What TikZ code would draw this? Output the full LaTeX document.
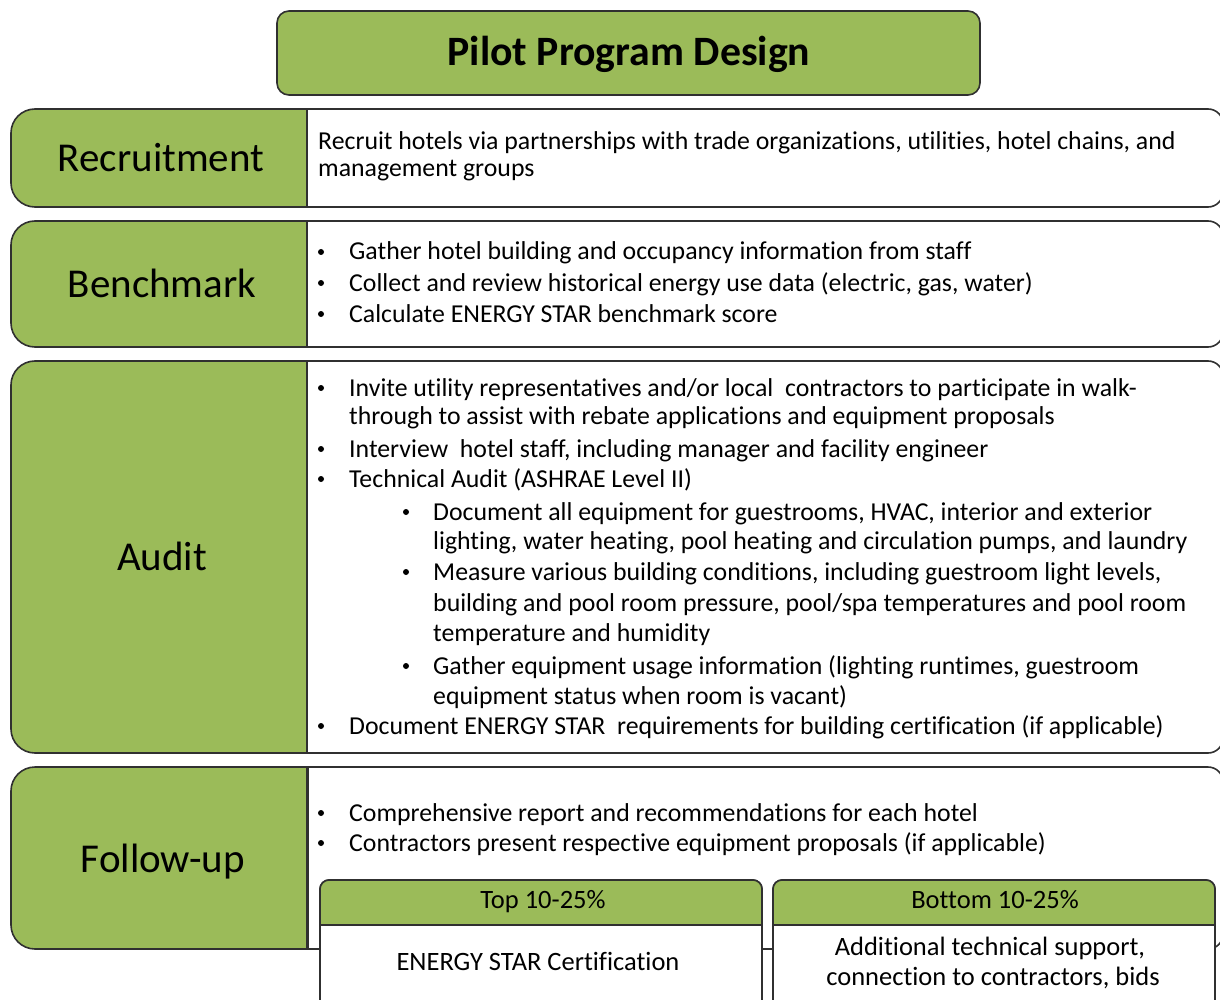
\documentclass[tikz,border=0pt]{standalone}
\usepackage{fontspec}
\setmainfont{Carlito}[Ligatures={NoCommon}]
\definecolor{ppgreen}{HTML}{9BBB59}
\definecolor{ppline}{HTML}{303030}
\tikzset{
  greenbox/.style={draw=ppline, line width=1.6pt, fill=ppgreen},
  whitebox/.style={draw=ppline, line width=1.6pt, fill=white},
  label/.style={font=\fontsize{41}{48}\selectfont, anchor=base, inner sep=0pt},
  title/.style={font=\fontsize{41.8}{48}\selectfont\bfseries, anchor=base, inner sep=0pt},
  body/.style={font=\fontsize{25.8}{30}\selectfont, anchor=base west, inner sep=0pt},
  subtxt/.style={font=\fontsize{26.5}{30}\selectfont, anchor=base, inner sep=0pt},
  bul/.style={circle, fill=black, inner sep=0pt, minimum size=6pt},
}
\newcommand\pprow[3]{%
  \begin{scope}
    \clip (0,#1-6) rectangle (307,#2+6);
    \draw[greenbox, rounded corners=24pt] (11,#1) rectangle (380,#2);
  \end{scope}
  \begin{scope}
    \clip (307,#1-6) rectangle (1240,#2+6);
    \draw[whitebox, rounded corners=15pt] (240,#1) rectangle (1223,#2);
  \end{scope}
  \draw[draw=ppline, line width=#3] (307,#1) -- (307,#2);
}
\newcommand\ppsub[2]{% #1 left, #2 right
  \draw[whitebox, rounded corners=9pt] (#1,880) rectangle (#2,1020);
  \begin{scope}
    \clip (#1-5,870) rectangle (#2+5,925);
    \draw[greenbox, rounded corners=9pt] (#1,880) rectangle (#2,1020);
  \end{scope}
  \draw[draw=ppline, line width=1.6pt] (#1,925) -- (#2,925);
}
\begin{document}
\begin{tikzpicture}[x=1pt,y=-1pt]
\useasboundingbox (0,0) rectangle (1220,1000);
\clip (0,0) rectangle (1220,1000);

% title
\draw[greenbox, rounded corners=12pt] (277,11) rectangle (980,95);
\node[title] (title) at (629,66) {Pilot Program Design};

% rows
\pprow{109}{207}{1.6pt}
\pprow{221}{347}{1.6pt}
\pprow{361}{753}{1.6pt}
\pprow{767}{949}{3pt}

\node[label] (lrec) at (161,172) {Recruitment};
\node[label] (lben) at (162,298) {Benchmark};
\node[label] (laud) at (162,570) {Audit};
\node[label] (lfol) at (163,872) {Follow-up};

% Recruitment
\node[body] (r1) at (318,150) {Recruit hotels via partnerships with trade organizations, utilities, hotel chains, and};
\node[body] (r2) at (318,177) {management groups};

% Benchmark
\foreach \y/\t [count=\i] in {260/Gather hotel building and occupancy information from staff,
  291/{Collect and review historical energy use data (electric, gas, water)},
  322/Calculate ENERGY STAR benchmark score}{
  \node[bul] (bb\i) at (321,\y-8) {};
  \node[body] (bt\i) at (349,\y) {\t};
}

% Audit level 1
\node[bul] (ab1) at (321,388) {};
\node[body] (at1) at (349,396) {Invite utility representatives and/or local\ \ contractors to participate in walk-};
\node[body] (at1b) at (349,424) {through to assist with rebate applications and equipment proposals};
\node[bul] (ab2) at (321,449) {};
\node[body] (at2) at (349,457) {Interview\ \ hotel staff, including manager and facility engineer};
\node[bul] (ab3) at (321,479) {};
\node[body] (at3) at (349,487) {Technical Audit (ASHRAE Level II)};
% Audit level 2
\node[bul] (ac1) at (406,512) {};
\node[body] (ct1) at (433,520) {Document all equipment for guestrooms, HVAC, interior and exterior};
\node[body] (ct1b) at (433,549) {lighting, water heating, pool heating and circulation pumps, and laundry};
\node[bul] (ac2) at (406,572) {};
\node[body] (ct2) at (433,580) {Measure various building conditions, including guestroom light levels,};
\node[body] (ct2b) at (433,611) {building and pool room pressure, pool/spa temperatures and pool room};
\node[body] (ct2c) at (433,641) {temperature and humidity};
\node[bul] (ac3) at (406,666) {};
\node[body] (ct3) at (433,674) {Gather equipment usage information (lighting runtimes, guestroom};
\node[body] (ct3b) at (433,704) {equipment status when room is vacant)};
\node[bul] (ab4) at (321,726) {};
\node[body] (at4) at (349,734) {Document ENERGY STAR\ \ requirements for building certification (if applicable)};

% Follow-up
\node[bul] (fb1) at (321,813) {};
\node[body] (ft1) at (349,821) {Comprehensive report and recommendations for each hotel};
\node[bul] (fb2) at (321,843) {};
\node[body] (ft2) at (349,851) {Contractors present respective equipment proposals (if applicable)};

% sub boxes
\ppsub{320}{762}
\ppsub{773}{1215}
\node[subtxt] (s1h) at (543,908) {Top 10-25\%};
\node[subtxt] (s1b) at (538,970) {ENERGY STAR Certification};
\node[subtxt] (s2h) at (995,908) {Bottom 10-25\%};
\node[subtxt] (s2b) at (990,955) {Additional technical support,};
\node[subtxt] (s2c) at (993,985) {connection to contractors, bids};
\end{tikzpicture}
\end{document}
